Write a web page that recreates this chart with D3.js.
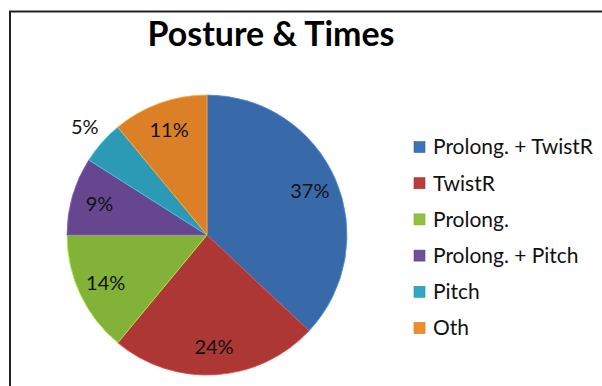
<!DOCTYPE html>
<html><head><meta charset="utf-8">
<script src="https://cdn.jsdelivr.net/npm/d3@7/dist/d3.min.js"></script>
<style>body{margin:0;background:#fff}svg{display:block}</style>
</head><body>
<svg id="c" width="602" height="386"></svg>
<script>
const title = "Posture & Times";
const categories = ["Prolong. + TwistR","TwistR","Prolong.","Prolong. + Pitch","Pitch","Oth"];
const values = [37,24,14,9,5,11];
const labels = ["37%","24%","14%","9%","5%","11%"];
const colors = ["#3d74ba","#bc3c3a","#8fc33d","#6f4e9c","#30a7c6","#f08c2c"];

const svg = d3.select("#c");
const font = "Lato, 'Open Sans', sans-serif";
svg.append("rect").attr("x",10).attr("y",11.5).attr("width",620).attr("height",400)
  .attr("fill","#fff").attr("stroke","#222").attr("stroke-width",2);

const t = svg.append("text").attr("x",271).attr("y",46).attr("text-anchor","middle")
  .attr("font-family",font).attr("font-weight","bold").attr("font-size",30).attr("fill","#000").text(title);
const tw = t.node().getComputedTextLength();
t.attr("font-size", 30*247/tw);

const cx = 207, cy = 235, R = 140;
const defs = svg.append("defs");
colors.forEach((c,i)=>{
  const g = defs.append("radialGradient").attr("id","g"+i).attr("gradientUnits","userSpaceOnUse")
    .attr("cx",cx).attr("cy",cy).attr("r",R);
  g.append("stop").attr("offset","0").attr("stop-color",c);
  g.append("stop").attr("offset","0.88").attr("stop-color",c);
  g.append("stop").attr("offset","0.97").attr("stop-color",d3.color(c).brighter(0.2));
  g.append("stop").attr("offset","1").attr("stop-color",d3.color(c).darker(0.25));
});

const pie = d3.pie().sort(null).value(d=>d)(values);
const arc = d3.arc().innerRadius(0).outerRadius(R);
const gp = svg.append("g").attr("transform",`translate(${cx},${cy})`);
gp.selectAll("path").data(pie).join("path").attr("d",arc)
  .attr("fill",(d,i)=>`url(#g${i})`).attr("stroke",(d,i)=>d3.color(colors[i]).brighter(0.6)).attr("stroke-width",0.8);

const inLab = d3.arc().innerRadius(112).outerRadius(112);
const outLab = d3.arc().innerRadius(163).outerRadius(163);
gp.selectAll("text").data(pie).join("text")
  .attr("transform",(d,i)=>`translate(${(values[i]<8?outLab:inLab).centroid(d)})`)
  .attr("text-anchor","middle").attr("dy","0.35em")
  .attr("font-family",font).attr("font-size",20).attr("fill","#111")
  .text((d,i)=>labels[i]);

const lg = svg.append("g");
const rows = lg.selectAll("g").data(categories).join("g")
  .attr("transform",(d,i)=>`translate(414,${147+i*36.2})`);
rows.append("rect").attr("x",0).attr("y",-5.5).attr("width",11).attr("height",11)
  .attr("fill",(d,i)=>colors[i]).attr("stroke",(d,i)=>d3.color(colors[i]).darker(0.4)).attr("stroke-width",0.6);
const lt = rows.append("text").attr("x",19).attr("dy","0.35em")
  .attr("font-family",font).attr("font-size",18).attr("fill","#111").text(d=>d);
const lw = lt.nodes()[0].getComputedTextLength();
lt.attr("font-size",18*160/lw);
</script>
</body></html>
